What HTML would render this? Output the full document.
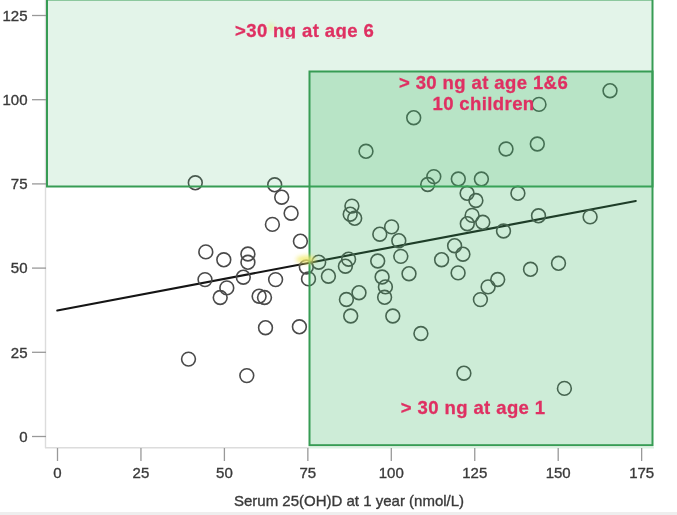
<!DOCTYPE html><html><head><meta charset="utf-8"><style>html,body{margin:0;padding:0;background:#fff;}svg{display:block;will-change:transform;}text{font-family:"Liberation Sans",Arial,sans-serif;}</style></head><body>
<svg width="677" height="515" viewBox="0 0 677 515">
<rect x="0" y="0" width="677" height="515" fill="#fff"/>
<rect x="0" y="512" width="677" height="3" fill="#eeeeee"/>
<line x1="45.5" y1="0" x2="45.5" y2="448" stroke="#dcdcdc" stroke-width="1.4"/>
<line x1="45" y1="447.7" x2="309" y2="447.7" stroke="#dcdcdc" stroke-width="1.4"/><line x1="309" y1="447.7" x2="654" y2="447.7" stroke="#dcf2e2" stroke-width="1.6"/>
<line x1="32" y1="436.50" x2="46" y2="436.50" stroke="#999" stroke-width="1.3"/>
<text x="27.5" y="441.80" text-anchor="end" font-size="15" fill="#3a3a3a" stroke="#3a3a3a" stroke-width="0.35">0</text>
<line x1="32" y1="352.30" x2="46" y2="352.30" stroke="#999" stroke-width="1.3"/>
<text x="27.5" y="357.60" text-anchor="end" font-size="15" fill="#3a3a3a" stroke="#3a3a3a" stroke-width="0.35">25</text>
<line x1="32" y1="268.10" x2="46" y2="268.10" stroke="#999" stroke-width="1.3"/>
<text x="27.5" y="273.40" text-anchor="end" font-size="15" fill="#3a3a3a" stroke="#3a3a3a" stroke-width="0.35">50</text>
<line x1="32" y1="183.90" x2="46" y2="183.90" stroke="#999" stroke-width="1.3"/>
<text x="27.5" y="189.20" text-anchor="end" font-size="15" fill="#3a3a3a" stroke="#3a3a3a" stroke-width="0.35">75</text>
<line x1="32" y1="99.70" x2="46" y2="99.70" stroke="#999" stroke-width="1.3"/>
<text x="27.5" y="105.00" text-anchor="end" font-size="15" fill="#3a3a3a" stroke="#3a3a3a" stroke-width="0.35">100</text>
<line x1="32" y1="15.50" x2="46" y2="15.50" stroke="#999" stroke-width="1.3"/>
<text x="27.5" y="20.80" text-anchor="end" font-size="15" fill="#3a3a3a" stroke="#3a3a3a" stroke-width="0.35">125</text>
<line x1="57.50" y1="448" x2="57.50" y2="461" stroke="#999" stroke-width="1.3"/>
<text x="57.50" y="477.8" text-anchor="middle" font-size="15" fill="#3a3a3a" stroke="#3a3a3a" stroke-width="0.35">0</text>
<line x1="140.95" y1="448" x2="140.95" y2="461" stroke="#999" stroke-width="1.3"/>
<text x="140.95" y="477.8" text-anchor="middle" font-size="15" fill="#3a3a3a" stroke="#3a3a3a" stroke-width="0.35">25</text>
<line x1="224.40" y1="448" x2="224.40" y2="461" stroke="#999" stroke-width="1.3"/>
<text x="224.40" y="477.8" text-anchor="middle" font-size="15" fill="#3a3a3a" stroke="#3a3a3a" stroke-width="0.35">50</text>
<line x1="307.85" y1="448" x2="307.85" y2="461" stroke="#999" stroke-width="1.3"/>
<text x="307.85" y="477.8" text-anchor="middle" font-size="15" fill="#3a3a3a" stroke="#3a3a3a" stroke-width="0.35">75</text>
<line x1="391.30" y1="448" x2="391.30" y2="461" stroke="#999" stroke-width="1.3"/>
<text x="391.30" y="477.8" text-anchor="middle" font-size="15" fill="#3a3a3a" stroke="#3a3a3a" stroke-width="0.35">100</text>
<line x1="474.75" y1="448" x2="474.75" y2="461" stroke="#999" stroke-width="1.3"/>
<text x="474.75" y="477.8" text-anchor="middle" font-size="15" fill="#3a3a3a" stroke="#3a3a3a" stroke-width="0.35">125</text>
<line x1="558.20" y1="448" x2="558.20" y2="461" stroke="#999" stroke-width="1.3"/>
<text x="558.20" y="477.8" text-anchor="middle" font-size="15" fill="#3a3a3a" stroke="#3a3a3a" stroke-width="0.35">150</text>
<line x1="641.65" y1="448" x2="641.65" y2="461" stroke="#999" stroke-width="1.3"/>
<text x="641.65" y="477.8" text-anchor="middle" font-size="15" fill="#3a3a3a" stroke="#3a3a3a" stroke-width="0.35">175</text>
<text x="234" y="505.5" font-size="15" fill="#3a3a3a" stroke="#3a3a3a" stroke-width="0.35">Serum 25(OH)D at 1 year (nmol/L)</text>
<line x1="57.3" y1="310.5" x2="635.8" y2="201" stroke="#151515" stroke-width="2.1" stroke-linecap="round"/>
<circle cx="195.3" cy="182.8" r="6.9" fill="none" stroke="#4a4a4a" stroke-width="1.6"/>
<circle cx="274.7" cy="184.8" r="6.9" fill="none" stroke="#4a4a4a" stroke-width="1.6"/>
<circle cx="281.7" cy="197.2" r="6.9" fill="none" stroke="#4a4a4a" stroke-width="1.6"/>
<circle cx="291.1" cy="213.2" r="6.9" fill="none" stroke="#4a4a4a" stroke-width="1.6"/>
<circle cx="272.4" cy="224.4" r="6.9" fill="none" stroke="#4a4a4a" stroke-width="1.6"/>
<circle cx="300.4" cy="241.2" r="6.9" fill="none" stroke="#4a4a4a" stroke-width="1.6"/>
<circle cx="205.8" cy="251.9" r="6.9" fill="none" stroke="#4a4a4a" stroke-width="1.6"/>
<circle cx="223.8" cy="259.8" r="6.9" fill="none" stroke="#4a4a4a" stroke-width="1.6"/>
<circle cx="247.9" cy="254.0" r="6.9" fill="none" stroke="#4a4a4a" stroke-width="1.6"/>
<circle cx="247.9" cy="262.3" r="6.9" fill="none" stroke="#4a4a4a" stroke-width="1.6"/>
<circle cx="205.0" cy="279.6" r="6.9" fill="none" stroke="#4a4a4a" stroke-width="1.6"/>
<circle cx="243.3" cy="277.2" r="6.9" fill="none" stroke="#4a4a4a" stroke-width="1.6"/>
<circle cx="226.8" cy="287.9" r="6.9" fill="none" stroke="#4a4a4a" stroke-width="1.6"/>
<circle cx="220.2" cy="297.5" r="6.9" fill="none" stroke="#4a4a4a" stroke-width="1.6"/>
<circle cx="259.1" cy="296.2" r="6.9" fill="none" stroke="#4a4a4a" stroke-width="1.6"/>
<circle cx="264.5" cy="297.5" r="6.9" fill="none" stroke="#4a4a4a" stroke-width="1.6"/>
<circle cx="275.6" cy="279.6" r="6.9" fill="none" stroke="#4a4a4a" stroke-width="1.6"/>
<circle cx="306.3" cy="267.0" r="6.9" fill="none" stroke="#4a4a4a" stroke-width="1.6"/>
<circle cx="308.5" cy="278.9" r="6.9" fill="none" stroke="#4a4a4a" stroke-width="1.6"/>
<circle cx="318.7" cy="262.2" r="6.9" fill="none" stroke="#4a4a4a" stroke-width="1.6"/>
<circle cx="328.4" cy="276.2" r="6.9" fill="none" stroke="#4a4a4a" stroke-width="1.6"/>
<circle cx="348.6" cy="259.2" r="6.9" fill="none" stroke="#4a4a4a" stroke-width="1.6"/>
<circle cx="345.4" cy="266.2" r="6.9" fill="none" stroke="#4a4a4a" stroke-width="1.6"/>
<circle cx="346.4" cy="299.5" r="6.9" fill="none" stroke="#4a4a4a" stroke-width="1.6"/>
<circle cx="359.0" cy="292.7" r="6.9" fill="none" stroke="#4a4a4a" stroke-width="1.6"/>
<circle cx="350.7" cy="316.0" r="6.9" fill="none" stroke="#4a4a4a" stroke-width="1.6"/>
<circle cx="265.5" cy="327.7" r="6.9" fill="none" stroke="#4a4a4a" stroke-width="1.6"/>
<circle cx="299.4" cy="326.8" r="6.9" fill="none" stroke="#4a4a4a" stroke-width="1.6"/>
<circle cx="188.5" cy="359.1" r="6.9" fill="none" stroke="#4a4a4a" stroke-width="1.6"/>
<circle cx="246.8" cy="375.6" r="6.9" fill="none" stroke="#4a4a4a" stroke-width="1.6"/>
<circle cx="351.9" cy="206.1" r="6.9" fill="none" stroke="#4a4a4a" stroke-width="1.6"/>
<circle cx="350.2" cy="214.2" r="6.9" fill="none" stroke="#4a4a4a" stroke-width="1.6"/>
<circle cx="354.7" cy="218.3" r="6.9" fill="none" stroke="#4a4a4a" stroke-width="1.6"/>
<circle cx="379.8" cy="234.2" r="6.9" fill="none" stroke="#4a4a4a" stroke-width="1.6"/>
<circle cx="391.6" cy="226.9" r="6.9" fill="none" stroke="#4a4a4a" stroke-width="1.6"/>
<circle cx="398.8" cy="240.7" r="6.9" fill="none" stroke="#4a4a4a" stroke-width="1.6"/>
<circle cx="377.7" cy="261.0" r="6.9" fill="none" stroke="#4a4a4a" stroke-width="1.6"/>
<circle cx="400.8" cy="256.4" r="6.9" fill="none" stroke="#4a4a4a" stroke-width="1.6"/>
<circle cx="382.1" cy="277.0" r="6.9" fill="none" stroke="#4a4a4a" stroke-width="1.6"/>
<circle cx="409.0" cy="273.7" r="6.9" fill="none" stroke="#4a4a4a" stroke-width="1.6"/>
<circle cx="385.4" cy="286.9" r="6.9" fill="none" stroke="#4a4a4a" stroke-width="1.6"/>
<circle cx="384.6" cy="297.3" r="6.9" fill="none" stroke="#4a4a4a" stroke-width="1.6"/>
<circle cx="392.8" cy="316.0" r="6.9" fill="none" stroke="#4a4a4a" stroke-width="1.6"/>
<circle cx="420.9" cy="333.5" r="6.9" fill="none" stroke="#4a4a4a" stroke-width="1.6"/>
<circle cx="413.7" cy="117.7" r="6.9" fill="none" stroke="#4a4a4a" stroke-width="1.6"/>
<circle cx="366.0" cy="151.3" r="6.9" fill="none" stroke="#4a4a4a" stroke-width="1.6"/>
<circle cx="433.8" cy="176.6" r="6.9" fill="none" stroke="#4a4a4a" stroke-width="1.6"/>
<circle cx="427.7" cy="184.5" r="6.9" fill="none" stroke="#4a4a4a" stroke-width="1.6"/>
<circle cx="458.3" cy="179.0" r="6.9" fill="none" stroke="#4a4a4a" stroke-width="1.6"/>
<circle cx="481.4" cy="179.0" r="6.9" fill="none" stroke="#4a4a4a" stroke-width="1.6"/>
<circle cx="467.1" cy="193.3" r="6.9" fill="none" stroke="#4a4a4a" stroke-width="1.6"/>
<circle cx="475.9" cy="200.5" r="6.9" fill="none" stroke="#4a4a4a" stroke-width="1.6"/>
<circle cx="472.1" cy="215.4" r="6.9" fill="none" stroke="#4a4a4a" stroke-width="1.6"/>
<circle cx="467.3" cy="223.7" r="6.9" fill="none" stroke="#4a4a4a" stroke-width="1.6"/>
<circle cx="482.8" cy="222.3" r="6.9" fill="none" stroke="#4a4a4a" stroke-width="1.6"/>
<circle cx="503.5" cy="231.0" r="6.9" fill="none" stroke="#4a4a4a" stroke-width="1.6"/>
<circle cx="454.6" cy="245.7" r="6.9" fill="none" stroke="#4a4a4a" stroke-width="1.6"/>
<circle cx="462.9" cy="254.2" r="6.9" fill="none" stroke="#4a4a4a" stroke-width="1.6"/>
<circle cx="441.6" cy="259.7" r="6.9" fill="none" stroke="#4a4a4a" stroke-width="1.6"/>
<circle cx="458.1" cy="272.9" r="6.9" fill="none" stroke="#4a4a4a" stroke-width="1.6"/>
<circle cx="497.7" cy="279.5" r="6.9" fill="none" stroke="#4a4a4a" stroke-width="1.6"/>
<circle cx="488.1" cy="286.9" r="6.9" fill="none" stroke="#4a4a4a" stroke-width="1.6"/>
<circle cx="480.4" cy="299.6" r="6.9" fill="none" stroke="#4a4a4a" stroke-width="1.6"/>
<circle cx="530.5" cy="269.3" r="6.9" fill="none" stroke="#4a4a4a" stroke-width="1.6"/>
<circle cx="558.5" cy="263.3" r="6.9" fill="none" stroke="#4a4a4a" stroke-width="1.6"/>
<circle cx="517.9" cy="193.3" r="6.9" fill="none" stroke="#4a4a4a" stroke-width="1.6"/>
<circle cx="538.5" cy="215.8" r="6.9" fill="none" stroke="#4a4a4a" stroke-width="1.6"/>
<circle cx="590.1" cy="216.9" r="6.9" fill="none" stroke="#4a4a4a" stroke-width="1.6"/>
<circle cx="463.9" cy="373.2" r="6.9" fill="none" stroke="#4a4a4a" stroke-width="1.6"/>
<circle cx="564.4" cy="388.4" r="6.9" fill="none" stroke="#4a4a4a" stroke-width="1.6"/>
<circle cx="506.0" cy="149.0" r="6.9" fill="none" stroke="#4a4a4a" stroke-width="1.6"/>
<circle cx="537.3" cy="144.0" r="6.9" fill="none" stroke="#4a4a4a" stroke-width="1.6"/>
<circle cx="539.0" cy="104.4" r="6.9" fill="none" stroke="#4a4a4a" stroke-width="1.6"/>
<circle cx="610.0" cy="90.7" r="6.9" fill="none" stroke="#4a4a4a" stroke-width="1.6"/>
<defs><filter id="bl" x="-50%" y="-50%" width="200%" height="200%"><feGaussianBlur stdDeviation="2"/></filter></defs>
<rect x="47" y="-0.5" width="605.5" height="187" fill="rgba(60,180,100,0.144)" stroke="#379c54" stroke-width="2"/>
<rect x="309.5" y="71.5" width="343" height="373.7" fill="rgba(60,180,100,0.256)" stroke="#379c54" stroke-width="2"/>
<ellipse cx="271" cy="27" rx="3" ry="4" fill="#e6f39a" opacity="0.8" filter="url(#bl)"/>
<ellipse cx="306" cy="259.5" rx="10" ry="4" fill="#f3ea6a" opacity="0.8" filter="url(#bl)"/>
<defs><clipPath id="c1"><rect x="0" y="0" width="677" height="38.5"/></clipPath></defs>
<text x="235" y="36.7" font-size="18.5" font-weight="bold" letter-spacing="0.4" fill="#df3062" stroke="#df3062" stroke-width="0.3" clip-path="url(#c1)">&gt;30 ng at age 6</text>
<text x="483.5" y="88.5" text-anchor="middle" font-size="18.5" font-weight="bold" letter-spacing="0.4" fill="#df3062" stroke="#df3062" stroke-width="0.3">&gt; 30 ng at age 1&amp;6</text>
<text x="483.5" y="110.2" text-anchor="middle" font-size="18.5" font-weight="bold" letter-spacing="0.4" fill="#df3062" stroke="#df3062" stroke-width="0.3">10 children</text>
<text x="400.8" y="414.2" font-size="18.5" font-weight="bold" letter-spacing="0.4" fill="#df3062" stroke="#df3062" stroke-width="0.3">&gt; 30 ng at age 1</text>
</svg></body></html>
